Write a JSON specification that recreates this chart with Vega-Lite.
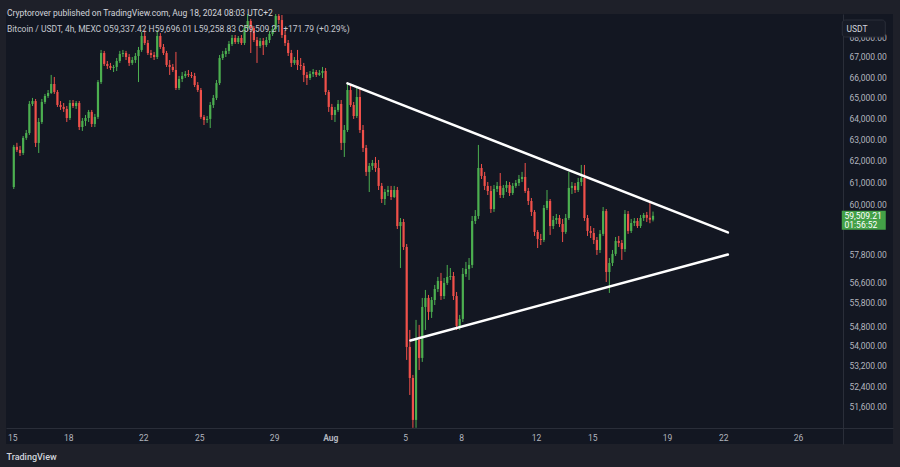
{
"$schema": "https://vega.github.io/schema/vega-lite/v6.json",
"width": 887, "height": 430,
"autosize": {"type": "none"},
"padding": {"left": 6, "top": 14, "right": 7, "bottom": 23},
"background": "#1e2029",
"config": {"view": {"fill": "#131722", "stroke": null}, "font": "Roboto", "axis": {"grid": false}},
"title": {"text": "Cryptorover published on TradingView.com, Aug 18, 2024 08:03 UTC+2", "subtitle": "Bitcoin / USDT, 4h, MEXC   O59,337.42  H59,696.01  L59,258.83  C59,509.21  +171.79 (+0.29%)", "anchor": "start", "frame": "group", "orient": "top", "offset": -19, "dx": 1, "fontSize": 8.5, "fontWeight": "normal", "color": "#d1d4dc", "font": "Roboto", "subtitleFont": "Roboto", "subtitleFontSize": 8.5, "subtitleColor": "#c4c7cf", "subtitlePadding": 7},
"datasets": {
"btc": [
{"t":"2024-07-15T02:00","o":60800,"h":62740,"l":60710,"c":62650},
{"t":"2024-07-15T06:00","o":62650,"h":62840,"l":62410,"c":62510},
{"t":"2024-07-15T10:00","o":62510,"h":62695,"l":62225,"c":62365},
{"t":"2024-07-15T14:00","o":62365,"h":63160,"l":62270,"c":63070},
{"t":"2024-07-15T18:00","o":63070,"h":63445,"l":62975,"c":63300},
{"t":"2024-07-15T22:00","o":63300,"h":64830,"l":63210,"c":64690},
{"t":"2024-07-16T02:00","o":64690,"h":64980,"l":64590,"c":64830},
{"t":"2024-07-16T06:00","o":64830,"h":64930,"l":62645,"c":62835},
{"t":"2024-07-16T10:00","o":62835,"h":64015,"l":62365,"c":63825},
{"t":"2024-07-16T14:00","o":63825,"h":64930,"l":63730,"c":64785},
{"t":"2024-07-16T18:00","o":64785,"h":65175,"l":64690,"c":65075},
{"t":"2024-07-16T22:00","o":65075,"h":65365,"l":64980,"c":65220},
{"t":"2024-07-17T02:00","o":65220,"h":66105,"l":65175,"c":65660},
{"t":"2024-07-17T06:00","o":65660,"h":66005,"l":65175,"c":65270},
{"t":"2024-07-17T10:00","o":65270,"h":65365,"l":64545,"c":64640},
{"t":"2024-07-17T14:00","o":64640,"h":64830,"l":64400,"c":64545},
{"t":"2024-07-17T18:00","o":64545,"h":64735,"l":64305,"c":64450},
{"t":"2024-07-17T22:00","o":64450,"h":64590,"l":63825,"c":64015},
{"t":"2024-07-18T02:00","o":64015,"h":64880,"l":63920,"c":64735},
{"t":"2024-07-18T06:00","o":64735,"h":64880,"l":64495,"c":64590},
{"t":"2024-07-18T10:00","o":64590,"h":64830,"l":64450,"c":64735},
{"t":"2024-07-18T14:00","o":64735,"h":64830,"l":63445,"c":63585},
{"t":"2024-07-18T18:00","o":63585,"h":64015,"l":63400,"c":63875},
{"t":"2024-07-18T22:00","o":63875,"h":64160,"l":63635,"c":64015},
{"t":"2024-07-19T02:00","o":64015,"h":64400,"l":63825,"c":64305},
{"t":"2024-07-19T06:00","o":64305,"h":64400,"l":63585,"c":63730},
{"t":"2024-07-19T10:00","o":63730,"h":64210,"l":63585,"c":64065},
{"t":"2024-07-19T14:00","o":64065,"h":65855,"l":63970,"c":65755},
{"t":"2024-07-19T18:00","o":65755,"h":67350,"l":65660,"c":67195},
{"t":"2024-07-19T22:00","o":67195,"h":67300,"l":66550,"c":66650},
{"t":"2024-07-20T02:00","o":66650,"h":66795,"l":66400,"c":66550},
{"t":"2024-07-20T06:00","o":66550,"h":66700,"l":66350,"c":66450},
{"t":"2024-07-20T10:00","o":66450,"h":66600,"l":66250,"c":66500},
{"t":"2024-07-20T14:00","o":66500,"h":66945,"l":66300,"c":66795},
{"t":"2024-07-20T18:00","o":66795,"h":67300,"l":66700,"c":67145},
{"t":"2024-07-20T22:00","o":67145,"h":67350,"l":66995,"c":67195},
{"t":"2024-07-21T02:00","o":67195,"h":67300,"l":66845,"c":66995},
{"t":"2024-07-21T06:00","o":66995,"h":67145,"l":66550,"c":66700},
{"t":"2024-07-21T10:00","o":66700,"h":66995,"l":66600,"c":66845},
{"t":"2024-07-21T14:00","o":66845,"h":67195,"l":66700,"c":67045},
{"t":"2024-07-21T18:00","o":67045,"h":67500,"l":65755,"c":67350},
{"t":"2024-07-21T22:00","o":67350,"h":68260,"l":67250,"c":68055},
{"t":"2024-07-22T02:00","o":68055,"h":68360,"l":67600,"c":67700},
{"t":"2024-07-22T06:00","o":67700,"h":67850,"l":67095,"c":67195},
{"t":"2024-07-22T10:00","o":67195,"h":67350,"l":66945,"c":67095},
{"t":"2024-07-22T14:00","o":67095,"h":67250,"l":66845,"c":66995},
{"t":"2024-07-22T18:00","o":66995,"h":68360,"l":66895,"c":68055},
{"t":"2024-07-22T22:00","o":68055,"h":68205,"l":67400,"c":67500},
{"t":"2024-07-23T02:00","o":67500,"h":67650,"l":67095,"c":67195},
{"t":"2024-07-23T06:00","o":67195,"h":67300,"l":66500,"c":66600},
{"t":"2024-07-23T10:00","o":66600,"h":66845,"l":66105,"c":66500},
{"t":"2024-07-23T14:00","o":66500,"h":66650,"l":66250,"c":66350},
{"t":"2024-07-23T18:00","o":66350,"h":67250,"l":65365,"c":65465},
{"t":"2024-07-23T22:00","o":65465,"h":66055,"l":65365,"c":65905},
{"t":"2024-07-24T02:00","o":65905,"h":66250,"l":65755,"c":66055},
{"t":"2024-07-24T06:00","o":66055,"h":66300,"l":65955,"c":66155},
{"t":"2024-07-24T10:00","o":66155,"h":66350,"l":66005,"c":66105},
{"t":"2024-07-24T14:00","o":66105,"h":66250,"l":65955,"c":66055},
{"t":"2024-07-24T18:00","o":66055,"h":66205,"l":65510,"c":65610},
{"t":"2024-07-24T22:00","o":65610,"h":65755,"l":65270,"c":65365},
{"t":"2024-07-25T02:00","o":65365,"h":65465,"l":63970,"c":64065},
{"t":"2024-07-25T06:00","o":64065,"h":64160,"l":63680,"c":63920},
{"t":"2024-07-25T10:00","o":63920,"h":64110,"l":63780,"c":63970},
{"t":"2024-07-25T14:00","o":63970,"h":64785,"l":63540,"c":64640},
{"t":"2024-07-25T18:00","o":64640,"h":65125,"l":64495,"c":64980},
{"t":"2024-07-25T22:00","o":64980,"h":65855,"l":64880,"c":65705},
{"t":"2024-07-26T02:00","o":65705,"h":67095,"l":65610,"c":66945},
{"t":"2024-07-26T06:00","o":66945,"h":67300,"l":66845,"c":67145},
{"t":"2024-07-26T10:00","o":67145,"h":67450,"l":66995,"c":67300},
{"t":"2024-07-26T14:00","o":67300,"h":67800,"l":67145,"c":67650},
{"t":"2024-07-26T18:00","o":67650,"h":68105,"l":67550,"c":67955},
{"t":"2024-07-26T22:00","o":67955,"h":68105,"l":67650,"c":67750},
{"t":"2024-07-27T02:00","o":67750,"h":68055,"l":67650,"c":67955},
{"t":"2024-07-27T06:00","o":67955,"h":68105,"l":67600,"c":67700},
{"t":"2024-07-27T10:00","o":67700,"h":68615,"l":67600,"c":68460},
{"t":"2024-07-27T14:00","o":68460,"h":69180,"l":68310,"c":68820},
{"t":"2024-07-27T18:00","o":68820,"h":68925,"l":67195,"c":68460},
{"t":"2024-07-27T22:00","o":68460,"h":68565,"l":67750,"c":67850},
{"t":"2024-07-28T02:00","o":67850,"h":68005,"l":66700,"c":67550},
{"t":"2024-07-28T06:00","o":67550,"h":67955,"l":67450,"c":67800},
{"t":"2024-07-28T10:00","o":67800,"h":67955,"l":67095,"c":67600},
{"t":"2024-07-28T14:00","o":67600,"h":68005,"l":67500,"c":67850},
{"t":"2024-07-28T18:00","o":67850,"h":68310,"l":67700,"c":68155},
{"t":"2024-07-28T22:00","o":68155,"h":68565,"l":68055,"c":68410},
{"t":"2024-07-29T02:00","o":68410,"h":69490,"l":68310,"c":69080},
{"t":"2024-07-29T06:00","o":69080,"h":69900,"l":68665,"c":68870},
{"t":"2024-07-29T10:00","o":68870,"h":69130,"l":67955,"c":68105},
{"t":"2024-07-29T14:00","o":68105,"h":68360,"l":67550,"c":67700},
{"t":"2024-07-29T18:00","o":67700,"h":67850,"l":67045,"c":67195},
{"t":"2024-07-29T22:00","o":67195,"h":67350,"l":66500,"c":66700},
{"t":"2024-07-30T02:00","o":66700,"h":66995,"l":66600,"c":66845},
{"t":"2024-07-30T06:00","o":66845,"h":67350,"l":66350,"c":66600},
{"t":"2024-07-30T10:00","o":66600,"h":66945,"l":66350,"c":66550},
{"t":"2024-07-30T14:00","o":66550,"h":66700,"l":65755,"c":66105},
{"t":"2024-07-30T18:00","o":66105,"h":66250,"l":65610,"c":65955},
{"t":"2024-07-30T22:00","o":65955,"h":66300,"l":65855,"c":66155},
{"t":"2024-07-31T02:00","o":66155,"h":66400,"l":66005,"c":66250},
{"t":"2024-07-31T06:00","o":66250,"h":66350,"l":66005,"c":66105},
{"t":"2024-07-31T10:00","o":66105,"h":66350,"l":66055,"c":66205},
{"t":"2024-07-31T14:00","o":66205,"h":66500,"l":65955,"c":66300},
{"t":"2024-07-31T18:00","o":66300,"h":66450,"l":65125,"c":65270},
{"t":"2024-07-31T22:00","o":65270,"h":65365,"l":64305,"c":64545},
{"t":"2024-08-01T02:00","o":64545,"h":64690,"l":63920,"c":64160},
{"t":"2024-08-01T06:00","o":64160,"h":64545,"l":63825,"c":64400},
{"t":"2024-08-01T10:00","o":64400,"h":64880,"l":64305,"c":64690},
{"t":"2024-08-01T14:00","o":64690,"h":64880,"l":62505,"c":62835},
{"t":"2024-08-01T18:00","o":62835,"h":63680,"l":62180,"c":63445},
{"t":"2024-08-01T22:00","o":63445,"h":65660,"l":63350,"c":65365},
{"t":"2024-08-02T02:00","o":65365,"h":65610,"l":64545,"c":64640},
{"t":"2024-08-02T06:00","o":64640,"h":64785,"l":63970,"c":64110},
{"t":"2024-08-02T10:00","o":64110,"h":65465,"l":64015,"c":65025},
{"t":"2024-08-02T14:00","o":65025,"h":65465,"l":63305,"c":63445},
{"t":"2024-08-02T18:00","o":63445,"h":63680,"l":62410,"c":62600},
{"t":"2024-08-02T22:00","o":62600,"h":62740,"l":61305,"c":61490},
{"t":"2024-08-03T02:00","o":61490,"h":61900,"l":60575,"c":61765},
{"t":"2024-08-03T06:00","o":61765,"h":62040,"l":61580,"c":61900},
{"t":"2024-08-03T10:00","o":61900,"h":62180,"l":61490,"c":61670},
{"t":"2024-08-03T14:00","o":61670,"h":62040,"l":60665,"c":60850},
{"t":"2024-08-03T18:00","o":60850,"h":60985,"l":60080,"c":60260},
{"t":"2024-08-03T22:00","o":60260,"h":60710,"l":59990,"c":60575},
{"t":"2024-08-04T02:00","o":60575,"h":60850,"l":60395,"c":60665},
{"t":"2024-08-04T06:00","o":60665,"h":60850,"l":60215,"c":60350},
{"t":"2024-08-04T10:00","o":60350,"h":60850,"l":60305,"c":60665},
{"t":"2024-08-04T14:00","o":60665,"h":60805,"l":58925,"c":59055},
{"t":"2024-08-04T18:00","o":59055,"h":59410,"l":57235,"c":59235},
{"t":"2024-08-04T22:00","o":59235,"h":59370,"l":58010,"c":58140},
{"t":"2024-08-05T02:00","o":58140,"h":58270,"l":53440,"c":53960},
{"t":"2024-08-05T06:00","o":53960,"h":54650,"l":52060,"c":52725},
{"t":"2024-08-05T10:00","o":52725,"h":52845,"l":50800,"c":51100},
{"t":"2024-08-05T14:00","o":51100,"h":55060,"l":50800,"c":54240},
{"t":"2024-08-05T18:00","o":54240,"h":54855,"l":53040,"c":53520},
{"t":"2024-08-05T22:00","o":53520,"h":55970,"l":53360,"c":55595},
{"t":"2024-08-06T02:00","o":55595,"h":56305,"l":54650,"c":55970},
{"t":"2024-08-06T06:00","o":55970,"h":56095,"l":55060,"c":55390},
{"t":"2024-08-06T10:00","o":55390,"h":56010,"l":55140,"c":55885},
{"t":"2024-08-06T14:00","o":55885,"h":56515,"l":55675,"c":56345},
{"t":"2024-08-06T18:00","o":56345,"h":56855,"l":56220,"c":56685},
{"t":"2024-08-06T22:00","o":56685,"h":57025,"l":55885,"c":56050},
{"t":"2024-08-07T02:00","o":56050,"h":56810,"l":55925,"c":56600},
{"t":"2024-08-07T06:00","o":56600,"h":57365,"l":56515,"c":56855},
{"t":"2024-08-07T10:00","o":56855,"h":57235,"l":56725,"c":56895},
{"t":"2024-08-07T14:00","o":56895,"h":57065,"l":55885,"c":56050},
{"t":"2024-08-07T18:00","o":56050,"h":56220,"l":54650,"c":54815},
{"t":"2024-08-07T22:00","o":54815,"h":55265,"l":54650,"c":55100},
{"t":"2024-08-08T02:00","o":55100,"h":57235,"l":54975,"c":56980},
{"t":"2024-08-08T06:00","o":56980,"h":57495,"l":56855,"c":57195},
{"t":"2024-08-08T10:00","o":57195,"h":57665,"l":56725,"c":57365},
{"t":"2024-08-08T14:00","o":57365,"h":59500,"l":57235,"c":59280},
{"t":"2024-08-08T18:00","o":59280,"h":59765,"l":59145,"c":59500},
{"t":"2024-08-08T22:00","o":59500,"h":62740,"l":59370,"c":61670},
{"t":"2024-08-09T02:00","o":61670,"h":61855,"l":61165,"c":61305},
{"t":"2024-08-09T06:00","o":61305,"h":61490,"l":60665,"c":60850},
{"t":"2024-08-09T10:00","o":60850,"h":61030,"l":60440,"c":60620},
{"t":"2024-08-09T14:00","o":60620,"h":60850,"l":59635,"c":59810},
{"t":"2024-08-09T18:00","o":59810,"h":60895,"l":59680,"c":60710},
{"t":"2024-08-09T22:00","o":60710,"h":61030,"l":60575,"c":60850},
{"t":"2024-08-10T02:00","o":60850,"h":61440,"l":60305,"c":60440},
{"t":"2024-08-10T06:00","o":60440,"h":60895,"l":60305,"c":60760},
{"t":"2024-08-10T10:00","o":60760,"h":61075,"l":60575,"c":60895},
{"t":"2024-08-10T14:00","o":60895,"h":61030,"l":60395,"c":60530},
{"t":"2024-08-10T18:00","o":60530,"h":60985,"l":60440,"c":60850},
{"t":"2024-08-10T22:00","o":60850,"h":61120,"l":60760,"c":60985},
{"t":"2024-08-11T02:00","o":60985,"h":61350,"l":60850,"c":61165},
{"t":"2024-08-11T06:00","o":61165,"h":61490,"l":61030,"c":61260},
{"t":"2024-08-11T10:00","o":61260,"h":61900,"l":60530,"c":60620},
{"t":"2024-08-11T14:00","o":60620,"h":60760,"l":59990,"c":60170},
{"t":"2024-08-11T18:00","o":60170,"h":60305,"l":59500,"c":59680},
{"t":"2024-08-11T22:00","o":59680,"h":59765,"l":58620,"c":58795},
{"t":"2024-08-12T02:00","o":58795,"h":58880,"l":58095,"c":58490},
{"t":"2024-08-12T06:00","o":58490,"h":58710,"l":58225,"c":58445},
{"t":"2024-08-12T10:00","o":58445,"h":59990,"l":58355,"c":59855},
{"t":"2024-08-12T14:00","o":59855,"h":60665,"l":59765,"c":60170},
{"t":"2024-08-12T18:00","o":60170,"h":60260,"l":58665,"c":59055},
{"t":"2024-08-12T22:00","o":59055,"h":59500,"l":58925,"c":59325},
{"t":"2024-08-13T02:00","o":59325,"h":59590,"l":59145,"c":59410},
{"t":"2024-08-13T06:00","o":59410,"h":59545,"l":59010,"c":59145},
{"t":"2024-08-13T10:00","o":59145,"h":59370,"l":58355,"c":58795},
{"t":"2024-08-13T14:00","o":58795,"h":59590,"l":58710,"c":59410},
{"t":"2024-08-13T18:00","o":59410,"h":61490,"l":59325,"c":60760},
{"t":"2024-08-13T22:00","o":60760,"h":61030,"l":60485,"c":60850},
{"t":"2024-08-14T02:00","o":60850,"h":60985,"l":60530,"c":60665},
{"t":"2024-08-14T06:00","o":60665,"h":61215,"l":60575,"c":61030},
{"t":"2024-08-14T10:00","o":61030,"h":61810,"l":60850,"c":61215},
{"t":"2024-08-14T14:00","o":61215,"h":61810,"l":59280,"c":59410},
{"t":"2024-08-14T18:00","o":59410,"h":59545,"l":58620,"c":58840},
{"t":"2024-08-14T22:00","o":58840,"h":59055,"l":58530,"c":58750},
{"t":"2024-08-15T02:00","o":58750,"h":58970,"l":58270,"c":58445},
{"t":"2024-08-15T06:00","o":58445,"h":58575,"l":57795,"c":58010},
{"t":"2024-08-15T10:00","o":58010,"h":58880,"l":57880,"c":58710},
{"t":"2024-08-15T14:00","o":58710,"h":59900,"l":58620,"c":59720},
{"t":"2024-08-15T18:00","o":59720,"h":59810,"l":56640,"c":57065},
{"t":"2024-08-15T22:00","o":57065,"h":57665,"l":56180,"c":57450},
{"t":"2024-08-16T02:00","o":57450,"h":58010,"l":57320,"c":57840},
{"t":"2024-08-16T06:00","o":57840,"h":58575,"l":57750,"c":58400},
{"t":"2024-08-16T10:00","o":58400,"h":58620,"l":58140,"c":58315},
{"t":"2024-08-16T14:00","o":58315,"h":58445,"l":57580,"c":58050},
{"t":"2024-08-16T18:00","o":58050,"h":59765,"l":57925,"c":59590},
{"t":"2024-08-16T22:00","o":59590,"h":59720,"l":58710,"c":58840},
{"t":"2024-08-17T02:00","o":58840,"h":59370,"l":58750,"c":59190},
{"t":"2024-08-17T06:00","o":59190,"h":59410,"l":59055,"c":59280},
{"t":"2024-08-17T10:00","o":59280,"h":59410,"l":58970,"c":59055},
{"t":"2024-08-17T14:00","o":59055,"h":59545,"l":58970,"c":59410},
{"t":"2024-08-17T18:00","o":59410,"h":59635,"l":59280,"c":59545},
{"t":"2024-08-17T22:00","o":59545,"h":59680,"l":59235,"c":59420},
{"t":"2024-08-18T02:00","o":59420,"h":60150,"l":59180,"c":59337.42},
{"t":"2024-08-18T06:00","o":59337.42,"h":59696.01,"l":59258.83,"c":59509.21}
],
"tri": [
{"line":"upper","t":"2024-08-01T22:00","p":65690},
{"line":"upper","t":"2024-08-22T06:00","p":58775},
{"line":"lower","t":"2024-08-05T06:50","p":54220},
{"line":"lower","t":"2024-08-22T06:00","p":57815}
]
},
"layer": [
{
"data": {"name": "btc"},
"mark": {"type": "rule", "clip": true, "strokeWidth": 1},
"encoding": {
"x": {"field": "t", "type": "temporal",
"scale": {"domain": [{"year":2024,"month":7,"date":14,"hours":22,"minutes":26},{"year":2024,"month":8,"date":30,"hours":19,"minutes":25}], "nice": false},
"axis": {"orient": "bottom", "offset": -16,
"values": [{"year":2024,"month":7,"date":15},{"year":2024,"month":7,"date":18},{"year":2024,"month":7,"date":22},{"year":2024,"month":7,"date":25},{"year":2024,"month":7,"date":29},{"year":2024,"month":8,"date":1},{"year":2024,"month":8,"date":5},{"year":2024,"month":8,"date":8},{"year":2024,"month":8,"date":12},{"year":2024,"month":8,"date":15},{"year":2024,"month":8,"date":19},{"year":2024,"month":8,"date":22},{"year":2024,"month":8,"date":26}],
"labelExpr": "date(datum.value) === 1 ? 'Aug' : '' + date(datum.value)",
"labelFontWeight": {"condition": {"test": "date(datum.value) === 1", "value": "bold"}, "value": "normal"},
"labelFontSize": 8.5, "labelColor": "#b2b5be", "labelFont": "Roboto", "ticks": false, "labelPadding": 5,
"domainColor": "#2a2e39", "grid": false, "labelOverlap": false, "labelFlush": false, "labelBound": false,
"title": "\u00a0\u00a0\u00a0\u00a0\u00a0\u00a0TradingView", "titleAnchor": "start", "titleY": 28, "titleAlign": "left", "titleBaseline": "middle",
"titleFontSize": 9, "titleFontWeight": 500, "titleColor": "#d1d4dc", "titleFont": "Roboto"}},
"y": {"field": "l", "type": "quantitative",
"scale": {"type": "log", "domain": [50190, 69181], "nice": false, "zero": false},
"axis": {"orient": "right", "offset": -50,
"values": [51600, 52400, 53200, 54000, 54800, 55800, 56600, 57800, 60000, 61000, 62000, 63000, 64000, 65000, 66000, 67000, 68000],
"format": ",.2f", "labelFontSize": 8.5, "labelColor": "#b2b5be", "labelFont": "Roboto", "ticks": false, "labelPadding": 6,
"domainColor": "#2a2e39", "grid": false, "title": null, "labelAlign": "left", "labelBaseline": "middle", "labelOverlap": false, "labelBound": false}},
"y2": {"field": "h"},
"color": {"condition": {"test": "datum.c >= datum.o", "value": "#4caf50"}, "value": "#f0504a"}
}
},
{
"data": {"name": "btc"},
"mark": {"type": "bar", "clip": true, "width": 2.2},
"encoding": {
"x": {"field": "t", "type": "temporal"},
"y": {"field": "o", "type": "quantitative", "axis": {"orient": "right"}},
"y2": {"field": "c"},
"color": {"condition": {"test": "datum.c >= datum.o", "value": "#4caf50"}, "value": "#f0504a"}
}
},
{
"data": {"name": "tri"},
"mark": {"type": "line", "clip": true, "strokeWidth": 2.5, "color": "#ffffff", "strokeCap": "round"},
"encoding": {
"x": {"field": "t", "type": "temporal"},
"y": {"field": "p", "type": "quantitative", "axis": {"orient": "right"}},
"detail": {"field": "line"}
}
},
{
"data": {"name": "btc"},
"transform": [{"filter": "datum.c === 59509.21"}],
"mark": {"type": "tick", "orient": "horizontal", "size": 44, "thickness": 19, "color": "#43a047", "opacity": 1, "yOffset": 4.5},
"encoding": {
"x": {"datum": {"year":2024,"month":8,"date":29,"hours":12,"minutes":20}, "type": "temporal"},
"y": {"field": "c", "type": "quantitative", "axis": {"orient": "right"}}
}
},
{
"data": {"name": "btc"},
"transform": [{"filter": "datum.c === 59509.21"}],
"mark": {"type": "text", "align": "left", "baseline": "middle", "fontSize": 8.5, "color": "#ffffff", "font": "Roboto"},
"encoding": {
"x": {"datum": {"year":2024,"month":8,"date":28,"hours":11,"minutes":37}, "type": "temporal"},
"y": {"field": "c", "type": "quantitative", "axis": {"orient": "right"}},
"text": {"field": "c", "format": ",.2f"}
}
},
{
"data": {"name": "btc"},
"transform": [{"filter": "datum.c === 59509.21"}],
"mark": {"type": "text", "align": "left", "baseline": "middle", "fontSize": 8.5, "color": "#ffffff", "font": "Roboto", "dy": 9.5},
"encoding": {
"x": {"datum": {"year":2024,"month":8,"date":28,"hours":11,"minutes":37}, "type": "temporal"},
"y": {"field": "c", "type": "quantitative", "axis": {"orient": "right"}},
"text": {"value": "01:56:52"}
}
},
{
"data": {"values": [{}]},
"mark": {"type": "tick", "orient": "horizontal", "size": 43, "thickness": 17, "color": "#171b26", "stroke": "#2a2e39", "strokeWidth": 1, "opacity": 1, "cornerRadius": 3},
"encoding": {
"x": {"datum": {"year":2024,"month":8,"date":29,"hours":12,"minutes":20}, "type": "temporal"},
"y": {"datum": 68436, "type": "quantitative", "axis": {"orient": "right"}}
}
},
{
"data": {"values": [{}]},
"mark": {"type": "text", "align": "left", "baseline": "middle", "fontSize": 8.5, "color": "#d1d4dc", "font": "Roboto", "text": "USDT"},
"encoding": {
"x": {"datum": {"year":2024,"month":8,"date":28,"hours":14,"minutes":10}, "type": "temporal"},
"y": {"datum": 68436, "type": "quantitative", "axis": {"orient": "right"}}
}
}
]
}
